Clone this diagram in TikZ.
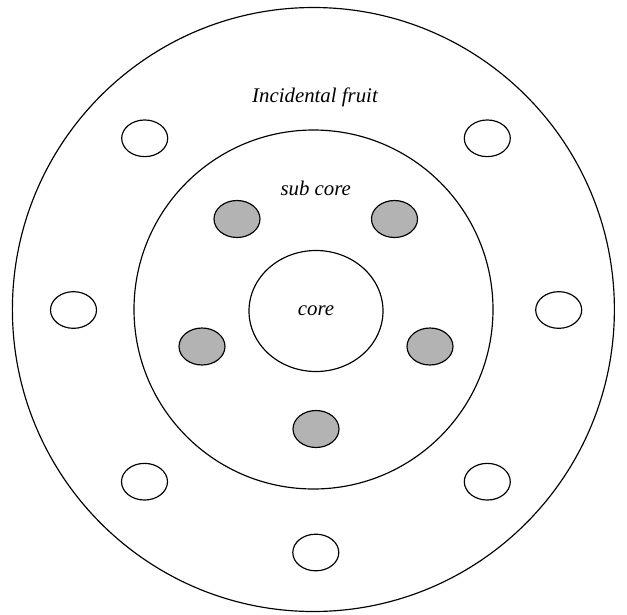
\documentclass[tikz,border=0pt]{standalone}
\usepackage{fontspec}
\setmainfont{Liberation Serif}
\usepackage{xcolor}
\usepackage{tikz}
\usetikzlibrary{positioning,shapes.geometric}
\definecolor{dLine}{RGB}{0,0,0}
\definecolor{dSeed}{RGB}{179,179,179}
\tikzset{
  ring/.style={ellipse, draw=dLine, line width=0.7pt, fill=none, inner sep=0pt},
  seedw/.style={ellipse, draw=dLine, line width=0.7pt, fill=white,
                minimum width=27.6pt, minimum height=22pt, inner sep=0pt},
  seedg/.style={seedw, fill=dSeed, minimum height=22.2pt},
  lbl/.style={font=\fontsize{12.5}{15}\selectfont\itshape, inner sep=0pt},
}
\begin{document}
\begin{tikzpicture}[x=0.6pt, y=-0.6pt]
  \useasboundingbox (0,0) rectangle (627,614);
  % rings
  \node[ring, minimum width=361.2pt, minimum height=362.4pt] (fruit) at (313.4,309.5) {};
  \node[ring, minimum width=215.4pt, minimum height=215.4pt] (sub) at (313.5,309.5) {};
  \node[ring, lbl, minimum width=80.4pt, minimum height=72.6pt] (core) at (316,311) {core};
  % labels
  \node[lbl] (fruitlbl) at (315,97) {Incidental fruit};
  \node[lbl] (sublbl) at (315.7,188) {sub core};
  % sub core seeds
  \node[seedg] (g1) at (237,219) {};
  \node[seedg] (g2) at (394.5,219) {};
  \node[seedg] (g3) at (202,346.5) {};
  \node[seedg] (g4) at (430,346.5) {};
  \node[seedg] (g5) at (316,429) {};
  % incidental seeds
  \node[seedw] (w1) at (144.7,138.3) {};
  \node[seedw] (w2) at (487.3,138.3) {};
  \node[seedw] (w3) at (73.5,310) {};
  \node[seedw] (w4) at (558.7,310) {};
  \node[seedw] (w5) at (144.5,481.7) {};
  \node[seedw] (w6) at (487.3,481.7) {};
  \node[seedw] (w7) at (315.8,552.5) {};
\end{tikzpicture}
\end{document}
